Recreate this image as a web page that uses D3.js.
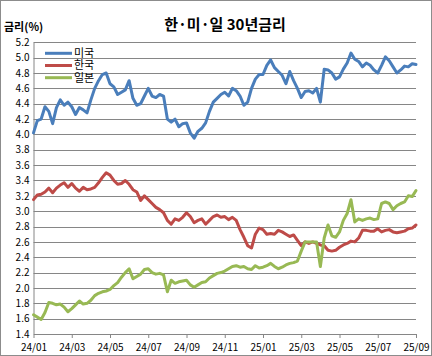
<!DOCTYPE html>
<html><head><meta charset="utf-8">
<script src="https://cdn.jsdelivr.net/npm/d3@7"></script>
<style>html,body{margin:0;padding:0;background:#fff;}svg{display:block;}</style>
</head><body>
<script>
const title = "한·미·일 30년금리";
const yTitle = "금리(%)";
const seriesNames = ["미국", "한국", "일본"];
const seriesColors = ["#4A7EBB", "#BE4B48", "#98B954"];
const xTickLabels = ["24/01","24/03","24/05","24/07","24/09","24/11","25/01","25/03","25/05","25/07","25/09"];
const yTicks = [1.4,1.6,1.8,2.0,2.2,2.4,2.6,2.8,3.0,3.2,3.4,3.6,3.8,4.0,4.2,4.4,4.6,4.8,5.0,5.2];

const us = [4.02,4.18,4.20,4.36,4.30,4.14,4.35,4.45,4.38,4.42,
4.36,4.26,4.35,4.32,4.28,4.45,4.60,4.70,4.78,4.80,
4.66,4.62,4.52,4.55,4.58,4.70,4.47,4.38,4.40,4.50,
4.60,4.50,4.48,4.52,4.50,4.20,4.16,4.20,4.10,4.14,
4.15,4.02,3.95,4.04,4.08,4.15,4.30,4.42,4.47,4.52,
4.55,4.50,4.60,4.57,4.50,4.38,4.42,4.60,4.72,4.78,
4.78,4.90,4.97,4.87,4.82,4.77,4.66,4.82,4.70,4.60,
4.48,4.56,4.57,4.54,4.60,4.42,4.85,4.84,4.80,4.72,
4.75,4.85,4.93,5.06,4.98,4.95,4.88,4.93,4.90,4.84,
4.80,4.90,5.01,4.96,4.88,4.80,4.84,4.89,4.88,4.92,4.91];

const kr = [3.15,3.21,3.22,3.25,3.30,3.24,3.30,3.34,3.37,3.31,
3.36,3.30,3.26,3.31,3.28,3.29,3.31,3.37,3.44,3.50,
3.47,3.40,3.35,3.36,3.40,3.35,3.28,3.25,3.14,3.20,
3.15,3.10,3.05,3.02,2.98,2.88,2.83,2.90,2.88,2.92,
2.98,2.93,2.85,2.88,2.90,2.83,2.88,2.93,2.95,2.92,
2.93,2.89,2.92,2.88,2.76,2.66,2.55,2.52,2.70,2.78,
2.76,2.70,2.71,2.70,2.75,2.73,2.70,2.67,2.69,2.62,
2.55,2.60,2.58,2.60,2.58,2.56,2.55,2.49,2.48,2.49,
2.53,2.56,2.58,2.61,2.60,2.65,2.75,2.75,2.74,2.74,
2.77,2.73,2.75,2.76,2.73,2.72,2.73,2.74,2.77,2.78,2.82];

const jp = [1.65,1.62,1.59,1.68,1.81,1.80,1.78,1.79,1.75,1.69,
1.73,1.78,1.83,1.79,1.80,1.84,1.90,1.93,1.95,1.96,
1.98,2.03,2.07,2.14,2.20,2.25,2.12,2.15,2.18,2.24,
2.25,2.20,2.18,2.19,2.17,1.95,2.10,2.06,2.08,2.09,
2.10,2.04,2.01,2.04,2.07,2.08,2.13,2.16,2.19,2.20,
2.22,2.25,2.28,2.29,2.27,2.28,2.25,2.24,2.29,2.26,
2.27,2.29,2.32,2.28,2.25,2.27,2.30,2.32,2.33,2.35,
2.48,2.60,2.60,2.60,2.60,2.28,2.65,2.82,2.68,2.66,
2.73,2.88,2.97,3.15,2.86,2.90,2.88,2.90,2.91,2.89,
2.90,3.10,3.12,3.10,3.02,3.07,3.10,3.12,3.20,3.19,3.27];

(function(){
const W = 432, H = 356;
const mLeft = 33.5, mRight = 416, mTop = 42.3, mBottom = 334;
const FONT = "'Noto Sans CJK KR', 'Noto Sans', sans-serif";

const svg = d3.select("body").append("svg").attr("width", W).attr("height", H);
svg.append("rect").attr("x",0.5).attr("y",0.5).attr("width",W-1).attr("height",H-1)
  .attr("fill","#fff").attr("stroke","#8c8c8c").attr("stroke-width",1);

const n = us.length;
const x = d3.scaleLinear().domain([0, n-1]).range([mLeft, mRight]);
const y = d3.scaleLinear().domain([1.4, 5.2]).range([mBottom, mTop]);

svg.append("g").selectAll("line").data(yTicks.filter(d => d > 1.41)).join("line")
  .attr("x1", mLeft).attr("x2", mRight)
  .attr("y1", d => Math.round(y(d))+0.5).attr("y2", d => Math.round(y(d))+0.5)
  .attr("stroke", "#868686").attr("stroke-width", 1);

const yAxis = d3.axisLeft(y).tickValues(yTicks).tickFormat(d3.format(".1f")).tickSize(0).tickPadding(4);
const gy = svg.append("g").attr("transform", `translate(${mLeft},0)`).call(yAxis);
gy.select(".domain").attr("stroke", "#868686");
gy.selectAll("text").attr("font-family", FONT).attr("font-size", 10).attr("fill", "#000");

const tickIdx = xTickLabels.map((d,i) => i*(n-1)/(xTickLabels.length-1));
const xAxis = d3.axisBottom(x).tickValues(tickIdx).tickFormat((d,i) => xTickLabels[i]).tickSizeInner(4).tickSizeOuter(0).tickPadding(6);
const gx = svg.append("g").attr("transform", `translate(0,${mBottom})`).call(xAxis);
gx.select(".domain").attr("stroke", "#868686");
gx.selectAll("line").attr("stroke", "#868686");
gx.selectAll("text").attr("font-family", FONT).attr("font-size", 10).attr("fill", "#000");

const line = d3.line().x((d,i) => x(i)).y(d => y(d)).curve(d3.curveLinear);
[us, kr, jp].forEach((s, k) => {
  svg.append("path").datum(s).attr("d", line)
    .attr("fill", "none").attr("stroke", seriesColors[k])
    .attr("stroke-width", 3).attr("stroke-linejoin", "round").attr("stroke-linecap", "round");
});

const legY = [53.3, 65.5, 77.7];
seriesNames.forEach((nm, k) => {
  svg.append("line").attr("x1", 45).attr("x2", 72).attr("y1", legY[k]).attr("y2", legY[k])
    .attr("stroke", seriesColors[k]).attr("stroke-width", 3);
  svg.append("text").attr("x", 74).attr("y", legY[k]).attr("dy", "0.35em")
    .attr("font-family", FONT).attr("font-size", 11).attr("fill", "#000").text(nm);
});

svg.append("text").attr("x", 225).attr("y", 30).attr("text-anchor", "middle")
  .attr("font-family", FONT).attr("font-size", 15).attr("font-weight", "bold").text(title);
svg.append("text").attr("x", 4).attr("y", 31)
  .attr("font-family", FONT).attr("font-size", 11).attr("font-weight", "bold").text(yTitle);
})();
</script>
</body></html>
